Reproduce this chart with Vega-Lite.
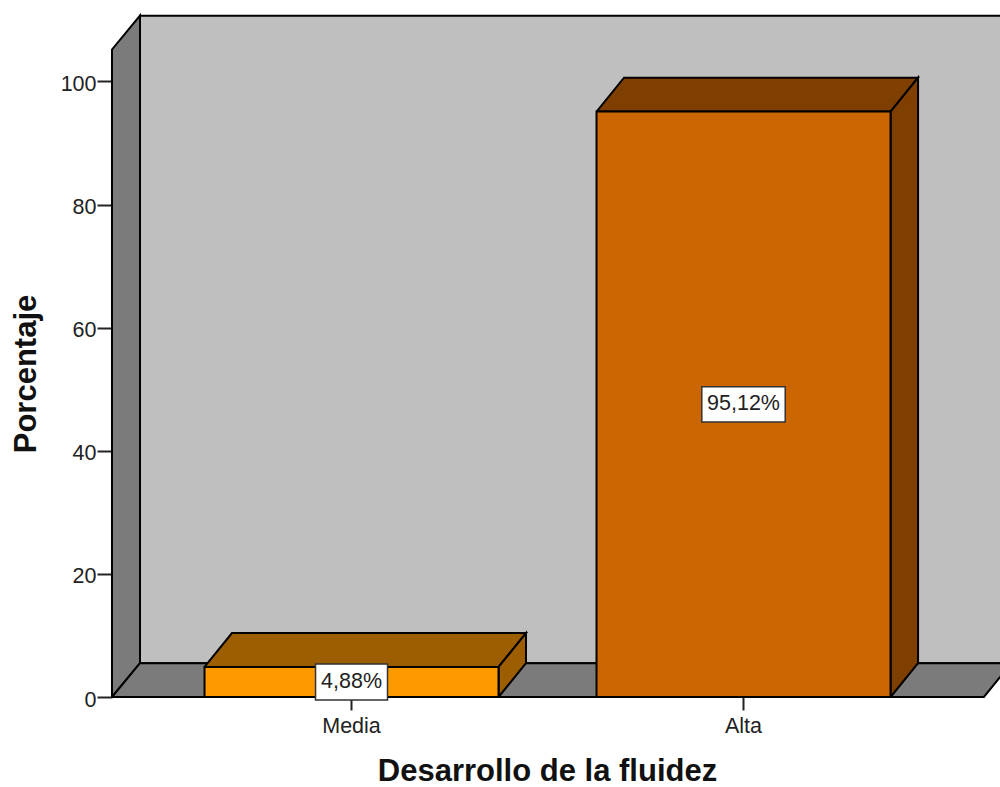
{
 "$schema":"https://vega.github.io/schema/vega-lite/v6.json",
 "width":888,"height":697,
 "autosize":{"type":"none"},
 "padding":{"left":112,"top":0,"right":0,"bottom":90},
 "background":"white",
 "config":{"view":{"stroke":null}},
 "datasets":{
  "valores":[
   {"desarrollo":"Media","porcentaje":4.88,"etiqueta":"4,88%"},
   {"desarrollo":"Alta","porcentaje":95.12,"etiqueta":"95,12%"}
  ],
  "caras":[
   {"cara":"fondo","orden":1,"posicion":0.4604,"nivel":5.5},
   {"cara":"fondo","orden":2,"posicion":0.4604,"nivel":110.7},
   {"cara":"fondo","orden":3,"posicion":2.683,"nivel":110.7},
   {"cara":"fondo","orden":4,"posicion":2.683,"nivel":5.5},
   {"cara":"fondo","orden":5,"posicion":0.4604,"nivel":5.5},
   {"cara":"pared","orden":1,"posicion":0.389,"nivel":0},
   {"cara":"pared","orden":2,"posicion":0.4604,"nivel":5.5},
   {"cara":"pared","orden":3,"posicion":0.4604,"nivel":110.7},
   {"cara":"pared","orden":4,"posicion":0.389,"nivel":105.2},
   {"cara":"pared","orden":5,"posicion":0.389,"nivel":0},
   {"cara":"suelo","orden":1,"posicion":0.389,"nivel":0},
   {"cara":"suelo","orden":2,"posicion":0.4604,"nivel":5.5},
   {"cara":"suelo","orden":3,"posicion":2.683,"nivel":5.5},
   {"cara":"suelo","orden":4,"posicion":2.613,"nivel":0},
   {"cara":"suelo","orden":5,"posicion":0.389,"nivel":0},
   {"cara":"media_techo","orden":1,"posicion":0.625,"nivel":4.88},
   {"cara":"media_techo","orden":2,"posicion":0.695,"nivel":10.38},
   {"cara":"media_techo","orden":3,"posicion":1.445,"nivel":10.38},
   {"cara":"media_techo","orden":4,"posicion":1.375,"nivel":4.88},
   {"cara":"media_techo","orden":5,"posicion":0.625,"nivel":4.88},
   {"cara":"media_lado","orden":1,"posicion":1.375,"nivel":0},
   {"cara":"media_lado","orden":2,"posicion":1.445,"nivel":5.5},
   {"cara":"media_lado","orden":3,"posicion":1.445,"nivel":10.38},
   {"cara":"media_lado","orden":4,"posicion":1.375,"nivel":4.88},
   {"cara":"media_lado","orden":5,"posicion":1.375,"nivel":0},
   {"cara":"alta_techo","orden":1,"posicion":1.625,"nivel":95.12},
   {"cara":"alta_techo","orden":2,"posicion":1.695,"nivel":100.62},
   {"cara":"alta_techo","orden":3,"posicion":2.445,"nivel":100.62},
   {"cara":"alta_techo","orden":4,"posicion":2.375,"nivel":95.12},
   {"cara":"alta_techo","orden":5,"posicion":1.625,"nivel":95.12},
   {"cara":"alta_lado","orden":1,"posicion":2.375,"nivel":0},
   {"cara":"alta_lado","orden":2,"posicion":2.445,"nivel":5.5},
   {"cara":"alta_lado","orden":3,"posicion":2.445,"nivel":100.62},
   {"cara":"alta_lado","orden":4,"posicion":2.375,"nivel":95.12},
   {"cara":"alta_lado","orden":5,"posicion":2.375,"nivel":0}
  ]
 },
 "resolve":{"scale":{"x":"independent","fill":"independent","shape":"independent"},"axis":{"x":"independent"}},
 "layer":[
  {
   "data":{"name":"caras"},
   "mark":{"type":"line","stroke":"#000000","strokeWidth":2,"strokeJoin":"miter"},
   "encoding":{
    "x":{"field":"posicion","type":"quantitative","axis":null,"scale":{"domain":[0.389,2.654],"nice":false,"zero":false}},
    "y":{"field":"nivel","type":"quantitative","scale":{"domain":[0,113.24],"nice":false,"zero":true},
     "axis":{"values":[0,20,40,60,80,100],"title":"Porcentaje","domain":false,"grid":false,"tickSize":15,"tickColor":"#222222","tickWidth":2,"labelFont":"Liberation Sans","labelFontSize":21.5,"labelColor":"#222222","labelPadding":1,"labelOffset":3,"titleFont":"Liberation Sans","titleFontSize":31,"titleFontWeight":"bold","titleColor":"#111111","titleAngle":-90,"titleAlign":"center","titleBaseline":"alphabetic","titleX":-77,"titleY":373.5}},
    "order":{"field":"orden","type":"quantitative"},
    "fill":{"field":"cara","type":"nominal","legend":null,"scale":{"domain":["fondo","pared","suelo","media_techo","media_lado","alta_techo","alta_lado"],"range":["#bfbfbf","#7b7b7b","#7b7b7b","#9c5e00","#9c5e00","#7f3f00","#7f3f00"]}}
   }
  },
  {
   "data":{"name":"valores"},
   "mark":{"type":"bar","stroke":"#000000","strokeWidth":2},
   "encoding":{
    "x":{"field":"desarrollo","type":"nominal","sort":["Media","Alta"],
     "scale":{"type":"band","domain":["Media","Alta"],"paddingInner":0.25,"paddingOuter":0.2577,"align":0.458},
     "axis":{"title":"Desarrollo de la fluidez","labelAngle":0,"domain":false,"tickSize":13,"tickColor":"#222222","tickWidth":2,"labelFont":"Liberation Sans","labelFontSize":21.5,"labelColor":"#222222","labelPadding":5,"titleFont":"Liberation Sans","titleFontSize":31,"titleFontWeight":"bold","titleColor":"#111111","titleAlign":"center","titleBaseline":"alphabetic","titleX":435,"titleY":83}},
    "y":{"field":"porcentaje","type":"quantitative"},
    "fill":{"field":"desarrollo","type":"nominal","legend":null,"scale":{"domain":["Media","Alta"],"range":["#ff9900","#cc6600"]}}
   }
  },
  {
   "data":{"name":"valores"},
   "transform":[{"calculate":"datum.porcentaje/2","as":"centro"}],
   "mark":{"type":"point","filled":true,"fill":"#ffffff","stroke":"#333333","strokeWidth":1.5,"opacity":1,"size":7396},
   "encoding":{
    "x":{"field":"desarrollo","type":"nominal","axis":null,"scale":{"type":"band","domain":["Media","Alta"],"paddingInner":0.25,"paddingOuter":0.2577,"align":0.458}},
    "y":{"field":"centro","type":"quantitative"},
    "shape":{"field":"desarrollo","type":"nominal","legend":null,"scale":{"domain":["Media","Alta"],"range":["M-0.837,-0.42H0.837V0.42H-0.837Z","M-0.97,-0.41H0.97V0.41H-0.97Z"]}}
   }
  },
  {
   "data":{"name":"valores"},
   "transform":[{"calculate":"datum.porcentaje/2","as":"centro"}],
   "mark":{"type":"text","font":"Liberation Sans","fontSize":21.5,"color":"#222222"},
   "encoding":{
    "x":{"field":"desarrollo","type":"nominal","axis":null,"scale":{"type":"band","domain":["Media","Alta"],"paddingInner":0.25,"paddingOuter":0.2577,"align":0.458}},
    "y":{"field":"centro","type":"quantitative"},
    "text":{"field":"etiqueta","type":"nominal"}
   }
  }
 ]
}
